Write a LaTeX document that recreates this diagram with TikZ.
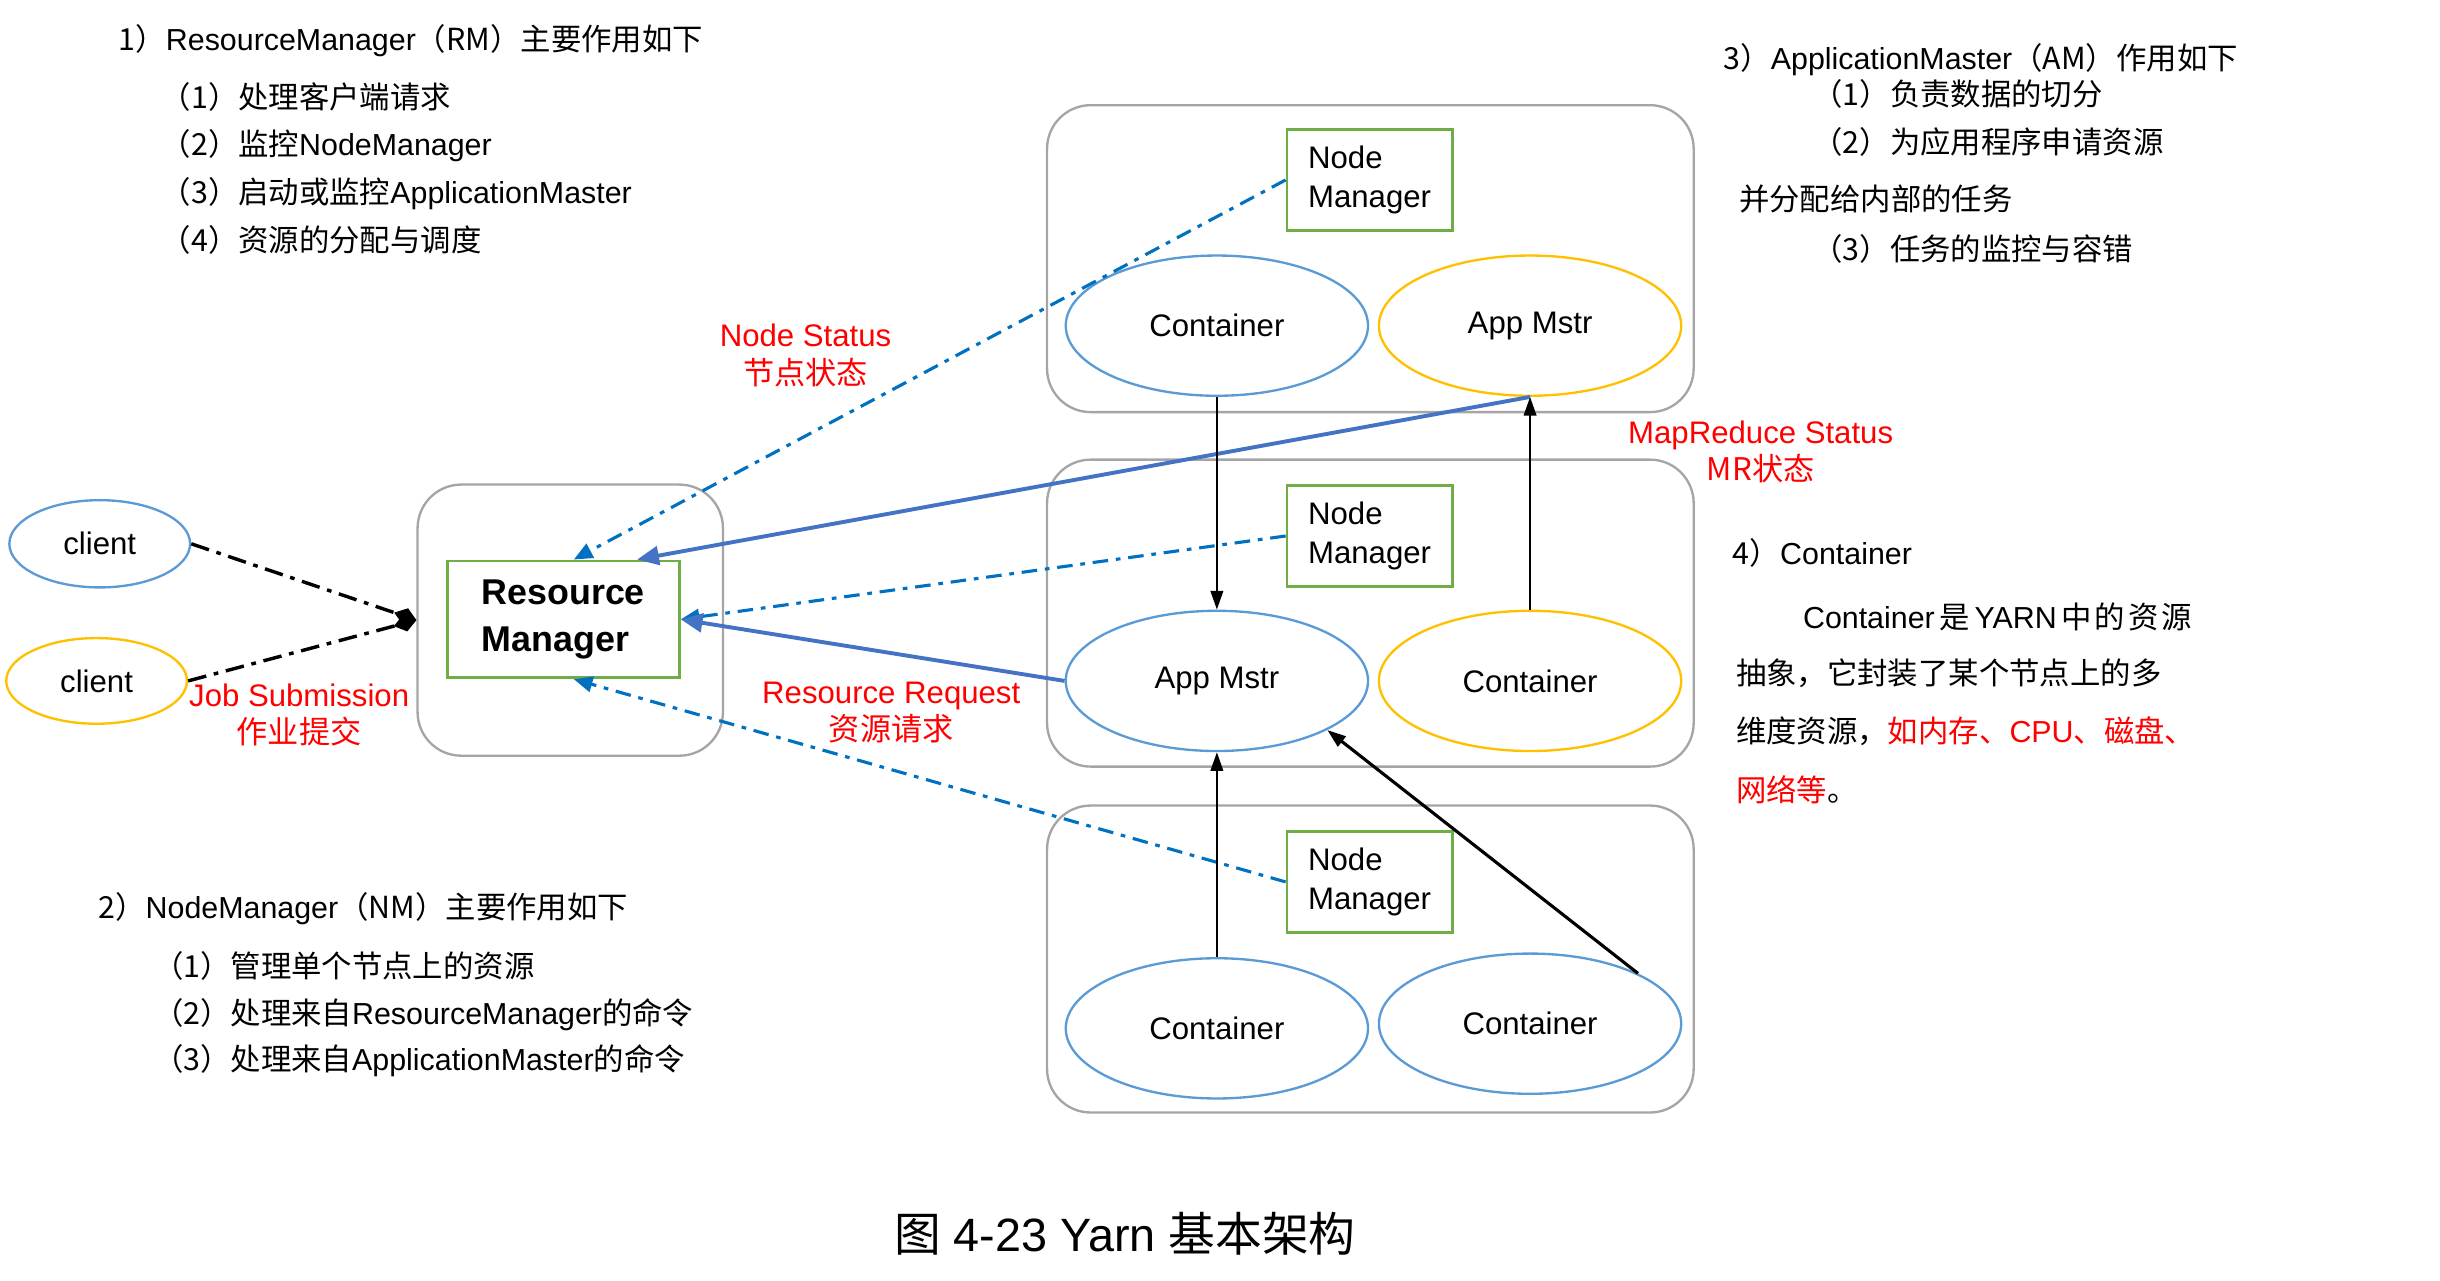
\documentclass[tikz,border=0pt]{standalone}
\usepackage{fontspec}
\setmainfont{Liberation Sans}
\newfontfamily\zhfont{Noto Sans CJK SC}
\newcommand{\zh}[1]{{\zhfont #1}}
\usetikzlibrary{positioning,shapes.geometric,arrows.meta}
\definecolor{rackgray}{RGB}{165,165,165}
\definecolor{cellblue}{RGB}{91,155,213}
\definecolor{cellyellow}{RGB}{255,192,0}
\definecolor{mgrgreen}{RGB}{112,173,71}
\definecolor{beatblue}{RGB}{0,112,192}
\definecolor{askblue}{RGB}{68,114,196}
\definecolor{notered}{RGB}{255,0,0}

\begin{document}
\begin{tikzpicture}[x=1pt, y=-1pt, node distance=201pt,
    rack/.style={rectangle, rounded corners=28pt, draw=rackgray, line width=1.5pt, minimum width=415pt, minimum height=197pt},
    manager/.style={rectangle, draw=mgrgreen, line width=1.8pt, align=left, minimum width=106pt, minimum height=65pt, inner sep=0pt, font=\fontsize{20}{25}\selectfont},
    bluecell/.style={ellipse, draw=cellblue, line width=1.5pt, minimum width=194pt, minimum height=90pt, inner sep=0pt, font=\fontsize{20}{24}\selectfont},
    yellowcell/.style={bluecell, draw=cellyellow},
    status/.style={align=center, text=notered, font=\fontsize{20}{24}\selectfont},
    note/.style={anchor=west, align=left, inner sep=0pt, font=\fontsize{19.5}{30.7}\selectfont},
    submit/.style={-{Diamond[length=15pt, width=11pt]}, line width=2.2pt, dash pattern=on 12pt off 5pt on 3pt off 5pt},
    heartbeat/.style={-{Triangle[length=12pt, width=10pt]}, draw=beatblue, line width=2pt, dash pattern=on 10pt off 5pt on 3pt off 5pt},
    request/.style={-{Triangle[length=14pt, width=12pt]}, draw=askblue, line width=2.5pt},
    task/.style={-{Triangle[length=12pt, width=8pt]}, line width=1.5pt}]

\useasboundingbox (0,0) rectangle (1566,822);

% Racks
\node[rack] (toprack) at (879.5,166) {};
\node[rack] (midrack) at (879.5,393.5) {};
\node[rack] (lowrack) at (879.5,615.5) {};
\node[rack, minimum width=196pt, minimum height=174pt] (rmrack) at (366,398) {};

% Managers
\node[manager, font=\bfseries\fontsize{23}{30}\selectfont, minimum width=149pt, minimum height=75pt] (rm) at (361.5,397.5) {Resource\\Manager};
\node[manager] (nm1) at (879,115.5) {Node\\Manager};
\node[manager] (nm2) at (879,344) {Node\\Manager};
\node[manager] (nm3) at (879,566) {Node\\Manager};

% Containers and application masters
\node[bluecell] (c1) at (781,209) {Container};
\node[yellowcell, right of=c1] (am1) {App Mstr};
\node[bluecell] (am2) at (781,437) {App Mstr};
\node[yellowcell, right of=am2] (c2) {Container};
\node[bluecell] (c3) at (781,660) {Container};
\node[bluecell] (c4) at (982,657) {Container};

% Clients
\node[bluecell, minimum width=116pt, minimum height=56pt] (client1) at (64,349) {client};
\node[yellowcell, minimum width=116pt, minimum height=55pt] (client2) at (62,437) {client};

% Arrows
\draw[submit] (client1.east) -- (rmrack.west);
\draw[submit] (client2.east) -- (rmrack.west);
\draw[heartbeat] (nm1.west) -- (rm.80);
\draw[heartbeat] (nm2.west) -- (rm.east);
\draw[heartbeat] (nm3.west) -- (rm.-80);
\draw[request] (am1.south) -- (rm.39);
\draw[request] (am2.west) -- (rm.east);
\draw[task] (c1.south) -- (am2.north);
\draw[task] (c2.north) -- (am1.south);
\draw[task] (c3.north) -- (am2.south);
\draw[task, line width=2pt] (c4.25) -- (am2.-24);

% Arrow labels
\node[status] (jobsub) at (192,459) {Job Submission\\\zh{作业提交}};
\node[status] (nodestat) at (517,228) {Node Status\\\zh{节点状态}};
\node[status] (resreq) at (572,457.5) {Resource Request\\\zh{资源请求}};
\node[status] (mrstat) at (1130,290) {MapReduce Status\\\zh{MR状态}};

% Notes
\node[note] (rmtitle) at (76,26) {\zh{1）}ResourceManager\zh{（RM）主要作用如下}};
\node[note] (rmduties) at (103,108) {\zh{（1）处理客户端请求}\\\zh{（2）监控}NodeManager\\\zh{（3）启动或监控}ApplicationMaster\\\zh{（4）资源的分配与调度}};
\node[note] (nmtitle) at (63,583) {\zh{2）}NodeManager\zh{（NM）主要作用如下}};
\node[note, font=\fontsize{19.5}{30}\selectfont] (nmduties) at (98,651) {\zh{（1）管理单个节点上的资源}\\\zh{（2）处理来自}ResourceManager\zh{的命令}\\\zh{（3）处理来自}ApplicationMaster\zh{的命令}};
\node[note] (amtitle) at (1106,38) {\zh{3）}ApplicationMaster\zh{（AM）作用如下}};
\node[note] (amduty1) at (1163,60) {\zh{（1）负责数据的切分}};
\node[note] (amduty2) at (1163,91) {\zh{（2）为应用程序申请资源}};
\node[note] (amduty2b) at (1116,128) {\zh{并分配给内部的任务}};
\node[note] (amduty3) at (1163,160) {\zh{（3）任务的监控与容错}};
\node[note] (cttitle) at (1112,355) {\zh{4）}Container};
\node[note] (ctline1) at (1157,396) {Container\hspace{3pt}\zh{是}\hspace{3pt}YARN\hspace{3pt}\zh{中}\hspace{2pt}\zh{的}\hspace{2pt}\zh{资}\hspace{2pt}\zh{源}};
\node[note] (ctline2) at (1114,432) {\zh{抽象，它封装了某个节点上的多}};
\node[note] (ctline3) at (1114,469) {\zh{维度资源，}\textcolor{notered}{\zh{如内存、}CPU\zh{、磁盘、}}};
\node[note] (ctline4) at (1114,507) {\textcolor{notered}{\zh{网络等}}\zh{。}};

% Caption
\node[font=\fontsize{30}{36}\selectfont] (caption) at (722,792) {\zh{图} 4-23 Yarn \zh{基本架构}};

\end{tikzpicture}
\end{document}
